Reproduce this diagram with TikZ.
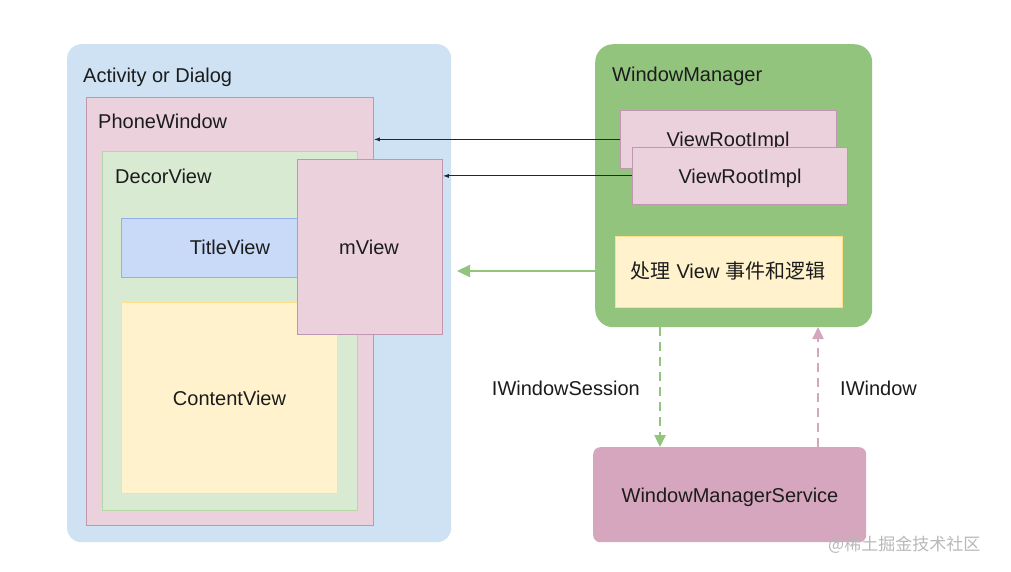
\documentclass[tikz,border=0pt]{standalone}
\usepackage{fontspec}
\setmainfont{Liberation Sans}
\newfontfamily\cjk{Noto Sans CJK SC}
\usetikzlibrary{arrows.meta}
\definecolor{actblue}{HTML}{CFE2F3}
\definecolor{pinkfill}{HTML}{EAD1DC}
\definecolor{pinkline}{HTML}{BF97B0}
\definecolor{decorfill}{HTML}{D9EAD3}
\definecolor{decorline}{HTML}{B6D7A8}
\definecolor{titlefill}{HTML}{C9DAF8}
\definecolor{titleline}{HTML}{8FB2EE}
\definecolor{yelfill}{HTML}{FFF2CC}
\definecolor{yelline}{HTML}{FFE08A}
\definecolor{wmgreen}{HTML}{93C47D}
\definecolor{wmspink}{HTML}{D5A6BD}
\definecolor{txt}{HTML}{1C1C1C}
\tikzset{
  box/.style={inner sep=0pt, anchor=north west},
  lbl/.style={inner sep=0pt, anchor=base west, text=txt, font=\fontsize{20}{24}\selectfont},
  ctr/.style={inner sep=0pt, anchor=base, text=txt, font=\fontsize{20}{24}\selectfont},
  thinarrow/.style={draw=black!85, line width=0.9pt, -{Latex[length=6pt,width=4pt]}},
  dashgreen/.style={draw=wmgreen, line width=2.4pt, dash pattern=on 9pt off 6pt, -{Triangle[length=12pt,width=11pt]}},
  dashpink/.style={draw=wmspink, line width=2.4pt, dash pattern=on 9pt off 6pt, -{Triangle[length=12pt,width=11pt]}}
}
\begin{document}
\begin{tikzpicture}[x=1pt,y=-1pt]
\useasboundingbox[fill=white] (0,0) rectangle (1011,571);
% Activity or Dialog
\node[box, fill=actblue, rounded corners=14pt, minimum width=384pt, minimum height=498pt] (act) at (67,44) {};
\node[lbl] (actl) at (83,82) {Activity or Dialog};
% PhoneWindow
\node[box, fill=pinkfill, draw=pinkline, line width=0.8pt, minimum width=287pt, minimum height=428pt] (pw) at (86,97) {};
\node[lbl] (pwl) at (98,128) {PhoneWindow};
% DecorView
\node[box, fill=decorfill, draw=decorline, line width=0.8pt, minimum width=255pt, minimum height=359pt] (dv) at (102,151) {};
\node[lbl] (dvl) at (115,183) {DecorView};
% TitleView
\node[box, fill=titlefill, draw=titleline, line width=0.8pt, minimum width=190pt, minimum height=59pt] (tv) at (121,218) {};
\node[ctr] (tvl) at (230,254) {TitleView};
% ContentView
\node[box, fill=yelfill, draw=yelline, line width=0.8pt, minimum width=216pt, minimum height=191pt] (cv) at (121,302) {};
\node[ctr] (cvl) at (229.5,405) {ContentView};
% mView
\node[box, fill=pinkfill, draw=pinkline, line width=0.8pt, minimum width=145pt, minimum height=175pt] (mv) at (297,159) {};
\node[ctr] (mvl) at (369,254) {mView};
% WindowManager
\node[box, fill=wmgreen, rounded corners=18pt, minimum width=277pt, minimum height=283pt] (wm) at (595,44) {};
\node[lbl] (wml) at (612,81) {WindowManager};
% ViewRootImpl 1
\node[box, fill=pinkfill, draw=pinkline, line width=0.8pt, minimum width=216pt, minimum height=58pt] (vr1) at (620,110) {};
\node[ctr] (vr1l) at (728,146) {ViewRootImpl};
% ViewRootImpl 2
\node[box, fill=pinkfill, draw=pinkline, line width=0.8pt, minimum width=215pt, minimum height=57pt] (vr2) at (632,147) {};
\node[ctr] (vr2l) at (740,183) {ViewRootImpl};
% yellow box
\node[box, fill=yelfill, draw=yelline, line width=0.8pt, minimum width=227pt, minimum height=71pt] (yb) at (615,236) {};
\node[ctr] (ybl) at (728,278) {{\cjk 处理} View {\cjk 事件和逻辑}};
% WindowManagerService
\node[box, fill=wmspink, rounded corners=7pt, minimum width=273pt, minimum height=95pt] (wms) at (593,447) {};
\node[ctr] (wmsl) at (730,502) {WindowManagerService};
% arrows
\draw[thinarrow] (vr1.west) -- (pw.east |- vr1.west);
\draw[thinarrow] (vr2.west) -- (mv.east |- vr2.west);
\coordinate (gend) at (457,271);
\draw[draw=wmgreen, line width=2.4pt, -{Triangle[length=13pt,width=12pt]}] (wm.west |- gend) -- (gend);
\coordinate (sesstop) at (660,327);
\coordinate (wintop) at (818,327);
\draw[dashgreen] (sesstop) -- (sesstop |- wms.north);
\draw[dashpink] (wintop |- wms.north) -- (wintop);
\node[lbl, anchor=base east] (sessl) at (640,395) {IWindowSession};
\node[lbl] (winl) at (840,395) {IWindow};
% watermark
\node[inner sep=0pt, anchor=base west, text=black!28, font=\cjk\fontsize{17}{20}\selectfont] (wmk) at (828,550) {@稀土掘金技术社区};
\end{tikzpicture}
\end{document}
